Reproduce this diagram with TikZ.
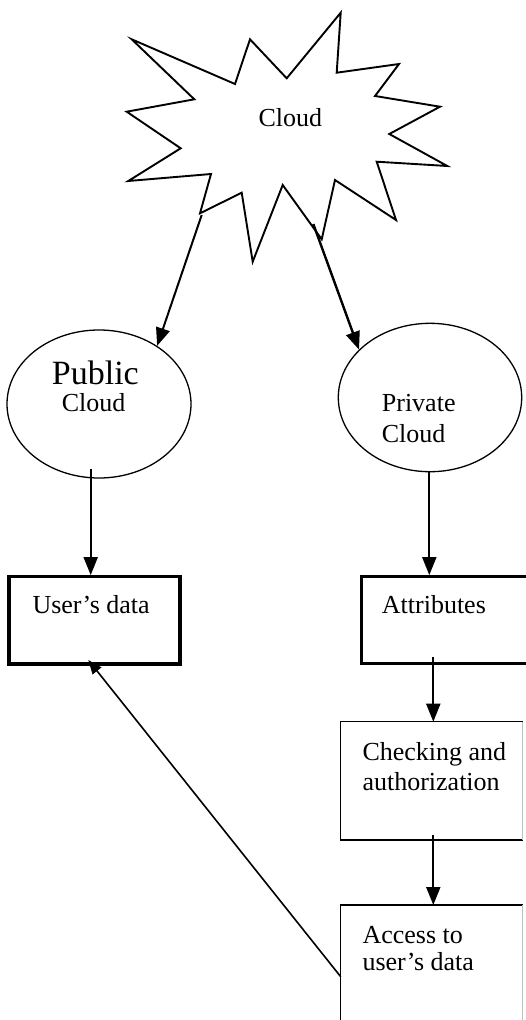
\documentclass[tikz,border=0pt]{standalone}
\usepackage{fontspec}
\setmainfont{Liberation Serif}
\usetikzlibrary{shapes.geometric,arrows.meta}
\begin{document}
\begin{tikzpicture}[x=1pt,y=-1pt,
  txt/.style={font=\fontsize{26}{30}\selectfont, inner sep=0pt, anchor=base west},
  bigtxt/.style={font=\fontsize{34}{38}\selectfont, inner sep=0pt, anchor=base west},
  arr/.style={-{Triangle[width=14pt,length=18pt]}, line width=2pt},
  thinarr/.style={-{Triangle[width=11pt,length=14pt]}, line width=1.6pt},
  thickbox/.style={draw, line width=3.2pt, inner sep=0pt},
  plainbox/.style={inner sep=0pt, outer sep=0pt},
  oval/.style={ellipse, draw, line width=1.3pt, inner sep=0pt},
  faint/.style={draw=black!25, line width=1pt}]
\fill[white] (0,0) rectangle (526,1020);
\useasboundingbox (0,0) rectangle (526,1020);
\clip (0,0) rectangle (526,1020);

% starburst
\draw[line width=1.9pt, line join=miter]
  (131.7,39.3) -- (235,84) -- (250,39.3) -- (286.7,78.3) -- (340.7,12.7)
  -- (336.7,72.7) -- (399,64) -- (375,96) -- (440,106.7) -- (389.3,134)
  -- (447.3,166) -- (376.7,161.7) -- (396,220) -- (335,180) -- (321.7,239.3)
  -- (282.7,185) -- (252.7,261.7) -- (241.7,192.7) -- (200,213.3) -- (211,174)
  -- (128.3,181) -- (180.7,148.3) -- (126.7,111.7) -- (194.3,99.3) -- cycle;
\node[txt] (cloudtxt) at (258.3,126.7) {Cloud};

% ellipses
\node[oval, minimum width=184pt, minimum height=148pt] (pub) at (99,404) {};
\node[oval, minimum width=183.4pt, minimum height=148.4pt] (priv) at (430,397.5) {};
\node[bigtxt] (pubt1) at (51.7,384) {Public};
\node[txt] (pubt2) at (61.7,411.7) {Cloud};
\node[txt] (privt1) at (381.7,411.7) {Private};
\node[txt] (privt2) at (381.7,442.7) {Cloud};

% boxes
\node[thickbox, minimum width=171pt, minimum height=87.3pt] (ud) at (94.5,620.35) {};
\node[thickbox, minimum width=178.3pt, minimum height=86.6pt] (attr) at (450.85,620) {};
\node[plainbox, minimum width=182pt, minimum height=118.3pt] (chk) at (431.7,780.85) {};
\node[plainbox, minimum width=182pt, minimum height=125pt] (acc) at (431.7,967.5) {};
\draw[line width=1.5pt] (chk.north east) -- (chk.north west) -- (chk.south west) -- (chk.south east);
\draw[faint] (chk.north east) -- (chk.south east);
\draw[line width=1.5pt] (acc.north east) -- (acc.north west) -- (acc.south west);
\draw[faint] (acc.north east) -- (acc.south east);

\node[txt] (udt) at (32.3,613.3) {User’s data};
\node[txt] (attrt) at (381.7,613.3) {Attributes};
\node[txt] (chkt1) at (362.3,760.7) {Checking and};
\node[txt] (chkt2) at (362.3,790.7) {authorization};
\node[txt] (acct1) at (362.3,943.3) {Access to};
\node[txt] (acct2) at (362.3,970) {user’s data};

% connectors
\coordinate (s1) at (201.7,215);
\coordinate (s2) at (313.3,224);
\draw[arr] (s1) -- (pub.45);
\draw[arr, line width=2.4pt] (s2) -- (priv.146);
\coordinate (p1) at (90.7,469);
\coordinate (p2) at (429.3,470.7);
\draw[arr] (p1) -- (p1 |- ud.north);
\draw[arr] (p2) -- (p2 |- attr.north);
\coordinate (a1) at (433.3,656.7);
\coordinate (c1) at (433.3,835);
\draw[arr] (a1) -- (a1 |- chk.north);
\draw[arr] (c1) -- (c1 |- acc.north);
\coordinate (u1) at (340.7,976.7);
\coordinate (u2) at (88.3,660);
\draw[thinarr] (u1) -- (u2);
\end{tikzpicture}
\end{document}
